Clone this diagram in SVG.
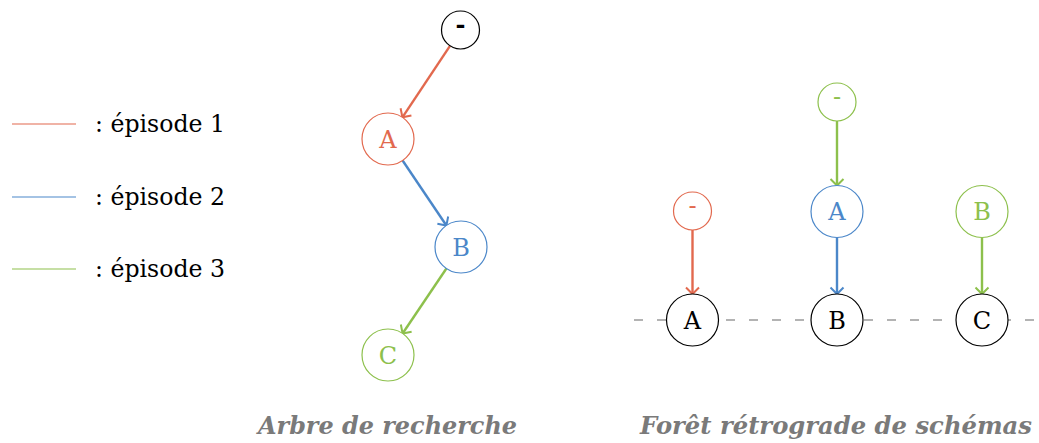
<svg xmlns="http://www.w3.org/2000/svg" width="1039" height="443" viewBox="0 0 1039 443">
<style>
.n{fill:#fff;stroke-width:1.2}
.k{stroke:#000}
.r{stroke:#E2694E}
.b{stroke:#4B87C9}
.g{stroke:#8DC04C}
.t{font-family:"DejaVu Serif","Liberation Serif",serif;font-size:24px;text-anchor:middle}
.tk{fill:#000}
.tr{fill:#E2694E}
.tb{fill:#4B87C9}
.tg{fill:#8DC04C}
.e{fill:none;stroke-width:2.4}
.lg{font-family:"DejaVu Serif","Liberation Serif",serif;font-size:24px;fill:#000}
.ttl{font-family:"DejaVu Serif","Liberation Serif",serif;font-size:24px;font-style:italic;font-weight:bold;fill:#7a7a7a}
</style>
<defs>
<marker id="ar" markerUnits="userSpaceOnUse" markerWidth="16" markerHeight="16" viewBox="-9 -8 11 16" refX="0" refY="0" orient="auto"><path d="M-6.5,-6.5 L0,0 L-6.5,6.5" fill="none" stroke="#E2694E" stroke-width="2"/></marker>
<marker id="ab" markerUnits="userSpaceOnUse" markerWidth="16" markerHeight="16" viewBox="-9 -8 11 16" refX="0" refY="0" orient="auto"><path d="M-6.5,-6.5 L0,0 L-6.5,6.5" fill="none" stroke="#4B87C9" stroke-width="2"/></marker>
<marker id="ag" markerUnits="userSpaceOnUse" markerWidth="16" markerHeight="16" viewBox="-9 -8 11 16" refX="0" refY="0" orient="auto"><path d="M-6.5,-6.5 L0,0 L-6.5,6.5" fill="none" stroke="#8DC04C" stroke-width="2"/></marker>
</defs>
<rect width="1039" height="443" fill="#fff"/>

<g id="legend">
<line x1="12" y1="124" x2="76" y2="124" stroke="#E2694E" stroke-width="1.2"/>
<text class="lg" x="95" y="132" textLength="130" lengthAdjust="spacingAndGlyphs">: épisode 1</text>
<line x1="12" y1="197" x2="76" y2="197" stroke="#4B87C9" stroke-width="1.2"/>
<text class="lg" x="95" y="205" textLength="130" lengthAdjust="spacingAndGlyphs">: épisode 2</text>
<line x1="12" y1="269" x2="76" y2="269" stroke="#8DC04C" stroke-width="1.2"/>
<text class="lg" x="95" y="277" textLength="130" lengthAdjust="spacingAndGlyphs">: épisode 3</text>
</g>

<line id="baseline" x1="634" y1="320" x2="1039" y2="320" stroke="#9a9a9a" stroke-width="1.4" stroke-dasharray="9 14"/>

<g id="connectors">
<line class="e" x1="450" y1="45.8" x2="402.4" y2="117.3" stroke="#E2694E" marker-end="url(#ar)"/>
<line class="e" x1="402.6" y1="160.5" x2="446.4" y2="225.5" stroke="#4B87C9" marker-end="url(#ab)"/>
<line class="e" x1="446.4" y1="268.5" x2="402.6" y2="333.5" stroke="#8DC04C" marker-end="url(#ag)"/>
<line class="e" x1="692.5" y1="230" x2="692.5" y2="294" stroke="#E2694E" marker-end="url(#ar)"/>
<line class="e" x1="837" y1="121" x2="837" y2="185.5" stroke="#8DC04C" marker-end="url(#ag)"/>
<line class="e" x1="837" y1="237.5" x2="837" y2="294" stroke="#4B87C9" marker-end="url(#ab)"/>
<line class="e" x1="982" y1="237.5" x2="982" y2="294" stroke="#8DC04C" marker-end="url(#ag)"/>
</g>

<g id="tree-root"><circle class="n k" cx="460.5" cy="30" r="19"/><text class="t tk" x="460.5" y="33" font-weight="bold">-</text></g>
<g id="tree-A"><circle class="n r" cx="388" cy="139" r="26"/><text class="t tr" x="388" y="147.7">A</text></g>
<g id="tree-B"><circle class="n b" cx="461" cy="247" r="26"/><text class="t tb" x="461" y="255.7">B</text></g>
<g id="tree-C"><circle class="n g" cx="388" cy="355" r="26"/><text class="t tg" x="388" y="363.7">C</text></g>

<g id="forest-root-red"><circle class="n r" cx="692.5" cy="211" r="19"/><text class="t tr" x="692.5" y="214">-</text></g>
<g id="forest-root-green"><circle class="n g" cx="837" cy="102" r="19"/><text class="t tg" x="837" y="105">-</text></g>
<g id="forest-A-blue"><circle class="n b" cx="837" cy="211.5" r="26"/><text class="t tb" x="837" y="220.2">A</text></g>
<g id="forest-B-green"><circle class="n g" cx="982" cy="211.5" r="26"/><text class="t tg" x="982" y="220.2">B</text></g>
<g id="forest-A"><circle class="n k" cx="692.5" cy="320" r="26"/><text class="t tk" x="692.5" y="328.7">A</text></g>
<g id="forest-B"><circle class="n k" cx="837" cy="320" r="26"/><text class="t tk" x="837" y="328.7">B</text></g>
<g id="forest-C"><circle class="n k" cx="982" cy="320" r="26"/><text class="t tk" x="982" y="328.7">C</text></g>

<g id="titles">
<text class="ttl" x="258" y="434" textLength="259" lengthAdjust="spacingAndGlyphs">Arbre de recherche</text>
<text class="ttl" x="640" y="434" textLength="392" lengthAdjust="spacingAndGlyphs">Forêt rétrograde de schémas</text>
</g>
</svg>
